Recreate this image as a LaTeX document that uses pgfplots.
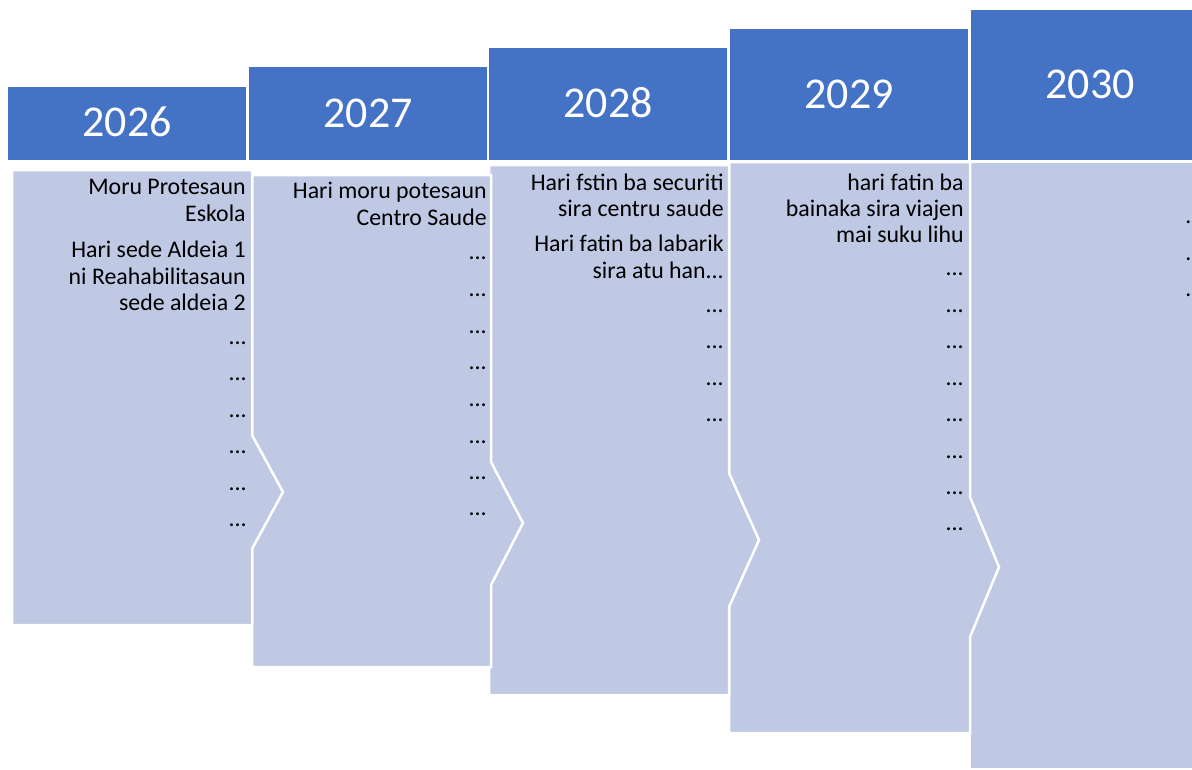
\documentclass[border=0pt]{standalone}
\usepackage{fontspec}
\setmainfont{Carlito}
\usepackage{pgfplots}
\pgfplotsset{compat=1.18}

\definecolor{head}{HTML}{4472C4}
\definecolor{body}{HTML}{BFC9E4}

\newcommand{\yr}{\fontsize{26.4}{30}\selectfont}
\newcommand{\tx}{\fontsize{14.3}{17}\selectfont}
\tikzset{
  lbl/.style={anchor=base east, font=\tx, inner sep=0pt, yshift=-1.2pt},
  lblw/.style={anchor=base west, font=\tx, inner sep=0pt, yshift=-1.2pt},
}

\begin{document}
\begin{tikzpicture}
\begin{axis}[
  scale only axis,
  width=715.2pt, height=462pt,
  xmin=0, xmax=1192, ymin=0, ymax=770,
  y dir=reverse,
  hide axis,
  clip=true,
]
% light boxes, last one first so every arrow lies on top of its neighbour
\addplot[fill=body, draw=white, line width=1.5pt] coordinates {
  (970,162) (1196,162) (1196,769) (970,769) } -- cycle;
\addplot[fill=body, draw=white, line width=1.5pt] coordinates {
  (729,162) (970,162) (970,497) (999,567) (970,637) (970,733) (729,733) } -- cycle;
\addplot[fill=body, draw=white, line width=1.5pt] coordinates {
  (489,165) (729,165) (729,473) (759,540) (729,607) (729,695) (489,695) } -- cycle;
\addplot[fill=body, draw=white, line width=1.5pt] coordinates {
  (252,175) (491,175) (491,462) (523,523) (491,585) (491,667) (252,667) } -- cycle;
\addplot[fill=body, draw=white, line width=1.5pt] coordinates {
  (12,170) (252,170) (252,435) (283,492) (252,549) (252,625) (12,625) } -- cycle;

% year headers
\addplot[fill=head, draw=none] coordinates {(8,87) (246,87) (246,160) (8,160)} -- cycle;
\addplot[fill=head, draw=none] coordinates {(249,67) (487,67) (487,160) (249,160)} -- cycle;
\addplot[fill=head, draw=none] coordinates {(489,48) (727,48) (727,160) (489,160)} -- cycle;
\addplot[fill=head, draw=none] coordinates {(730,29) (968,29) (968,160) (730,160)} -- cycle;
\addplot[fill=head, draw=none] coordinates {(971,10) (1196,10) (1196,160) (971,160)} -- cycle;

\node[text=white, font=\yr] at (axis cs:127,122) {2026};
\node[text=white, font=\yr] at (axis cs:368,113) {2027};
\node[text=white, font=\yr] at (axis cs:608,103) {2028};
\node[text=white, font=\yr] at (axis cs:849,94) {2029};
\node[text=white, font=\yr] at (axis cs:1090,84) {2030};

% 2026
\node[lbl] at (axis cs:246,192) {Moru Protesaun};
\node[lbl] at (axis cs:246,219) {Eskola};
\node[lbl] at (axis cs:246,255) {Hari sede Aldeia 1};
\node[lbl] at (axis cs:246,282) {ni Reahabilitasaun};
\node[lbl] at (axis cs:246,308) {sede aldeia 2};
\node[lbl] at (axis cs:247,342) {...};
\node[lbl] at (axis cs:247,378) {...};
\node[lbl] at (axis cs:247,415) {...};
\node[lbl] at (axis cs:247,451) {...};
\node[lbl] at (axis cs:247,488) {...};
\node[lbl] at (axis cs:247,524) {...};

% 2027
\node[lbl] at (axis cs:487,196) {Hari moru potesaun};
\node[lbl] at (axis cs:487,223) {Centro Saude};
\node[lbl] at (axis cs:487,257) {...};
\node[lbl] at (axis cs:487,294) {...};
\node[lbl] at (axis cs:487,331) {...};
\node[lbl] at (axis cs:487,367) {...};
\node[lbl] at (axis cs:487,404) {...};
\node[lbl] at (axis cs:487,441) {...};
\node[lbl] at (axis cs:487,477) {...};
\node[lbl] at (axis cs:487,513) {...};

% 2028
\node[lbl] at (axis cs:724,188) {Hari fstin ba securiti};
\node[lbl] at (axis cs:724,214) {sira centru saude};
\node[lbl] at (axis cs:724,249) {Hari fatin ba labarik};
\node[lbl] at (axis cs:724,276) {sira atu han...};
\node[lbl] at (axis cs:724,310) {...};
\node[lbl] at (axis cs:724,346) {...};
\node[lbl] at (axis cs:724,383) {...};
\node[lbl] at (axis cs:724,419) {...};

% 2029
\node[lbl] at (axis cs:964,188) {hari fatin ba};
\node[lbl] at (axis cs:964,214) {bainaka sira viajen};
\node[lbl] at (axis cs:964,240) {mai suku lihu};
\node[lbl] at (axis cs:964,273) {...};
\node[lbl] at (axis cs:964,310) {...};
\node[lbl] at (axis cs:964,346) {...};
\node[lbl] at (axis cs:964,383) {...};
\node[lbl] at (axis cs:964,419) {...};
\node[lbl] at (axis cs:964,456) {...};
\node[lbl] at (axis cs:964,492) {...};
\node[lbl] at (axis cs:964,528) {...};

% 2030, cut off at the right edge as in the reference
\node[lblw] at (axis cs:1185,221) {...};
\node[lblw] at (axis cs:1185,258) {...};
\node[lblw] at (axis cs:1185,294) {...};
\end{axis}
\pgfresetboundingbox
\useasboundingbox (current axis.south west) rectangle (current axis.north east);
\end{tikzpicture}
\end{document}
